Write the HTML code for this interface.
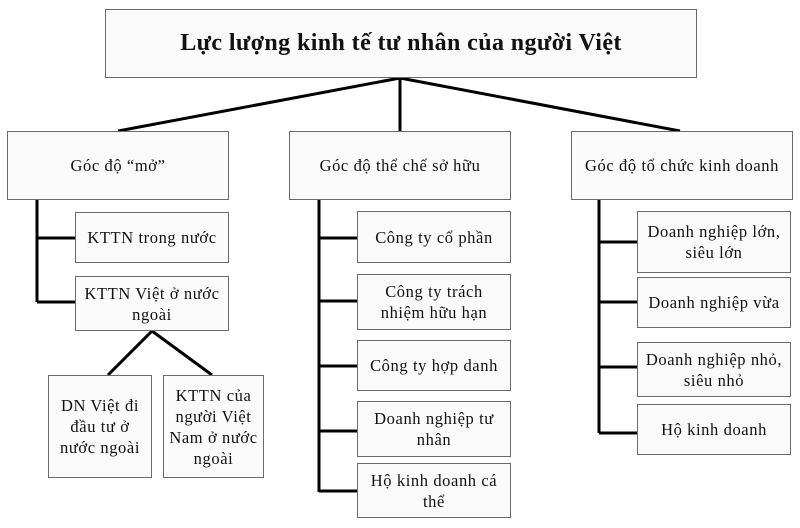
<!DOCTYPE html>
<html><head><meta charset="utf-8"><style>
body{margin:0;width:800px;height:528px;background:#fff;position:relative;overflow:hidden;font-family:"Liberation Serif",serif;color:#111}
.b{position:absolute;box-sizing:border-box;border:1px solid #6a6a6a;background:#fafafa;display:flex;align-items:center;justify-content:center;text-align:center;font-size:16.5px;letter-spacing:0.6px;line-height:21px}
svg{position:absolute;left:0;top:0}
</style></head><body>
<svg width="800" height="528" stroke="#000" stroke-width="3" fill="none">
<path d="M400 78 L118 131 M400 78 L400 131 M400 78 L680 131"/>
<path d="M37 200 V302 M37 238 H75 M37 302 H75"/>
<path d="M152 331 L108 375 M152 331 L212 375"/>
<path d="M319 200 V492 M319 238 H357 M319 301 H357 M319 366 H357 M319 431 H357 M319 491 H357"/>
<path d="M599 200 V433 M599 242 H637 M599 302 H637 M599 367 H637 M599 433 H637"/>
</svg>
<div class="b" style="left:105px;top:9px;width:592px;height:69px;font-size:24px;letter-spacing:0.4px;font-weight:bold">Lực lượng kinh tế tư nhân của người Việt</div>
<div class="b" style="left:7px;top:131px;width:222px;height:69px">Góc độ “mở”</div>
<div class="b" style="left:289px;top:131px;width:222px;height:69px">Góc độ thể chế sở hữu</div>
<div class="b" style="left:571px;top:131px;width:222px;height:69px">Góc độ tổ chức kinh doanh</div>
<div class="b" style="left:75px;top:212px;width:154px;height:51px">KTTN trong nước</div>
<div class="b" style="left:75px;top:276px;width:154px;height:55px">KTTN Việt ở nước<br>ngoài</div>
<div class="b" style="left:48px;top:375px;width:104px;height:103px">DN Việt đi<br>đầu tư ở<br>nước ngoài</div>
<div class="b" style="left:163px;top:375px;width:101px;height:103px">KTTN của<br>người Việt<br>Nam ở nước<br>ngoài</div>
<div class="b" style="left:357px;top:211px;width:154px;height:52px">Công ty cổ phần</div>
<div class="b" style="left:357px;top:274px;width:154px;height:56px">Công ty trách<br>nhiệm hữu hạn</div>
<div class="b" style="left:357px;top:340px;width:154px;height:51px">Công ty hợp danh</div>
<div class="b" style="left:357px;top:401px;width:154px;height:56px">Doanh nghiệp tư<br>nhân</div>
<div class="b" style="left:357px;top:463px;width:154px;height:55px">Hộ kinh doanh cá<br>thể</div>
<div class="b" style="left:637px;top:211px;width:154px;height:62px">Doanh nghiệp lớn,<br>siêu lớn</div>
<div class="b" style="left:637px;top:277px;width:154px;height:51px">Doanh nghiệp vừa</div>
<div class="b" style="left:637px;top:342px;width:154px;height:55px">Doanh nghiệp nhỏ,<br>siêu nhỏ</div>
<div class="b" style="left:637px;top:404px;width:154px;height:51px">Hộ kinh doanh</div>
</body></html>
